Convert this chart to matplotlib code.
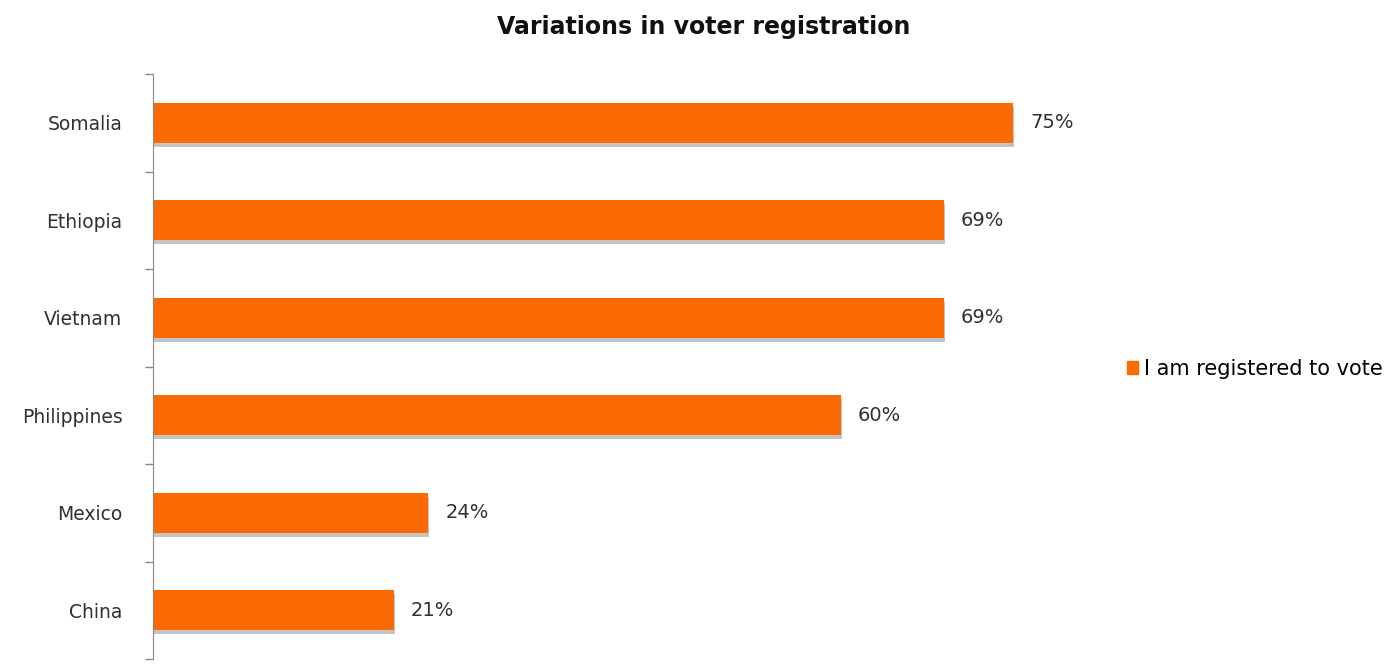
import numpy as np
import matplotlib.pyplot as plt
import matplotlib.patheffects as pe
from matplotlib.patches import Patch

countries = ['Somalia', 'Ethiopia', 'Vietnam', 'Philippines', 'Mexico', 'China']
registered = [75, 69, 69, 60, 24, 21]
series_name = 'I am registered to vote'

plt.rcParams['font.family'] = ['DejaVu Sans']

fig = plt.figure(figsize=(13.99, 6.64), dpi=100)
ax = fig.add_axes([153 / 1399, 5 / 664, 917 / 1399, 585 / 664])

y = np.arange(len(countries))
bars = ax.barh(y, registered, height=0.41, color='#FC6A03')
for b in bars:
    b.set_path_effects([pe.SimplePatchShadow(offset=(1, -3), shadow_rgbFace='#8a8a8a', alpha=0.5),
                        pe.Normal()])

for yi, v in zip(y, registered):
    ax.text(v + 1.5, yi, f'{v}%', va='center', ha='left', fontsize=14, color='#303030')

ax.set_xlim(0, 80)
ax.set_ylim(len(countries) - 0.5, -0.5)
ax.set_yticks(y)
ax.set_yticklabels(countries, fontsize=13.5, color='#303030')
ax.set_yticks(np.arange(len(countries) + 1) - 0.5, minor=True)
ax.tick_params(axis='y', which='major', length=0, pad=22)
ax.tick_params(axis='y', which='minor', length=6, color='#888888', width=1)
ax.set_xticks([])
for s in ['top', 'right', 'bottom']:
    ax.spines[s].set_visible(False)
ax.spines['left'].set_color('#888888')

fig.text(0.503, 0.96, 'Variations in voter registration', ha='center', va='center',
         fontsize=17, fontweight='bold', color='#111111')

fig.legend(handles=[Patch(color='#FC6A03')], labels=[series_name], loc='center left',
           bbox_to_anchor=(1108 / 1399, 1 - 369 / 664), frameon=False,
           handlelength=0.55, handleheight=0.55, handletextpad=0.3, fontsize=15)

fig.savefig('out.png', dpi=100)
